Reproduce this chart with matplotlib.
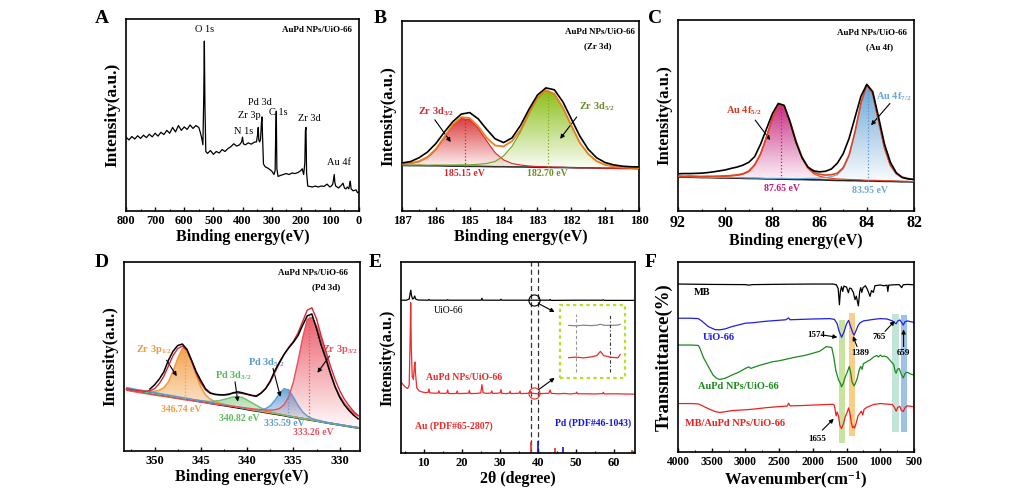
import numpy as np
import matplotlib
matplotlib.use('Agg')
import matplotlib.pyplot as plt
import matplotlib.colors as mcolors
from matplotlib.ticker import MultipleLocator

plt.rcParams['font.family'] = ['Liberation Serif', 'DejaVu Serif']
plt.rcParams['font.weight'] = 'bold'
plt.rcParams['axes.labelweight'] = 'bold'
plt.rcParams['mathtext.fontset'] = 'custom'
plt.rcParams['mathtext.rm'] = 'Liberation Serif'
plt.rcParams['mathtext.bf'] = 'Liberation Serif:bold'
plt.rcParams['mathtext.default'] = 'bf'

# ---------------- A: XPS survey ----------------
survey_be = [800, 790, 780, 770, 760, 750, 740, 730, 720, 710, 700, 690, 680, 670, 660, 650,
             640, 630, 620, 610, 600, 590, 580, 570, 560, 550, 545, 540, 536, 533, 531, 529,
             526, 520, 510, 500, 490, 480, 470, 460, 450, 440, 430, 420, 410, 403, 400, 397,
             390, 380, 370, 360, 352, 348, 346, 344, 341, 338, 335, 333, 331, 328, 322, 315,
             305, 298, 292, 288, 286, 284, 282, 278, 270, 260, 250, 240, 230, 220, 210, 200,
             195, 190, 186, 184, 182, 180, 176, 170, 160, 150, 140, 130, 120, 110, 100, 95,
             90, 88, 85, 83, 80, 75, 70, 60, 55, 50, 45, 40, 35, 32, 30, 27, 20, 10, 5, 0]
survey_int = [38.5, 37.0, 38.8, 37.5, 39.2, 37.8, 39.5, 38.2, 40.0, 38.6, 40.5, 39.0, 41.0, 39.8,
              42.0, 40.5, 43.5, 41.2, 44.5, 42.0, 43.8, 42.5, 44.8, 43.0, 44.5, 43.5, 41.0, 38.0,
              34.5, 60.0, 88.5, 55.0, 31.0, 30.0, 31.5, 29.5, 31.0, 30.2, 32.0, 31.0, 32.5, 33.5,
              35.0, 33.8, 34.5, 36.0, 38.5, 35.0, 34.5, 35.5, 34.8, 35.8, 36.0, 40.0, 43.5, 37.0,
              36.0, 37.5, 46.0, 49.0, 38.0, 24.5, 23.0, 22.5, 21.5, 20.5, 19.0, 21.0, 40.0, 52.0,
              22.0, 18.0, 18.5, 19.0, 19.5, 19.0, 19.8, 19.5, 20.0, 21.0, 22.0, 19.0, 25.0, 42.0,
              43.5, 20.0, 13.0, 12.8, 12.5, 13.0, 12.5, 13.0, 12.8, 14.0, 12.5, 13.0, 14.0, 16.0,
              19.0, 15.0, 13.0, 12.5, 12.0, 13.5, 14.5, 12.0, 11.5, 12.5, 11.5, 14.0, 15.5, 11.5,
              10.5, 11.0, 9.5, 10.0]
survey_tags = ['O 1s', 'Pd 3d', 'Zr 3p', 'N 1s', 'C 1s', 'Zr 3d', 'Au 4f']
survey_tag_be = [531, 339, 377, 397, 276, 171, 70]
survey_tag_y = [92, 54, 47.3, 39, 49, 46, 23]

# ---------------- B: Zr 3d ----------------
zr_be = [187.0, 186.75, 186.5, 186.25, 186.0, 185.75, 185.5, 185.25, 185.0, 184.75, 184.5,
         184.25, 184.0, 183.75, 183.5, 183.25, 183.0, 182.75, 182.5, 182.25, 182.0, 181.75,
         181.5, 181.25, 181.0, 180.75, 180.5, 180.25, 180.0]
zr_bg = [24.0, 23.9, 23.9, 23.8, 23.8, 23.7, 23.6, 23.6, 23.5, 23.5, 23.4, 23.3, 23.3, 23.2,
         23.2, 23.1, 23.0, 23.0, 22.9, 22.9, 22.8, 22.7, 22.7, 22.6, 22.5, 22.5, 22.4, 22.4, 22.3]
zr_3d32 = [24.8, 25.0, 25.9, 28.1, 32.2, 38.5, 44.8, 48.7, 48.1, 43.5, 36.9, 30.7, 26.9, 25.0,
           24.2, 23.7, 23.4, 23.3, 23.1, 23.0, 22.8, 22.7, 22.7, 22.6, 22.5, 22.5, 22.4, 22.4, 22.3]
zr_3d52 = [24.2, 24.1, 24.2, 24.1, 24.2, 24.2, 24.2, 24.3, 24.3, 24.6, 25.0, 26.1, 29.0, 34.1,
           41.6, 51.0, 59.2, 63.3, 61.5, 54.4, 45.0, 36.0, 30.0, 26.2, 24.3, 23.5, 23.0, 22.8, 22.6]
zr_fit = [25.0, 25.2, 26.2, 28.4, 32.6, 39.0, 45.4, 49.4, 48.9, 44.6, 38.5, 34.5, 34.0, 36.8,
          42.6, 51.6, 59.6, 63.6, 61.7, 54.5, 45.0, 36.0, 30.0, 26.2, 24.3, 23.5, 23.0, 22.8, 22.6]
zr_raw = [25.3, 26.0, 28.0, 31.0, 35.5, 41.5, 47.0, 51.0, 51.8, 48.5, 43.0, 38.0, 36.0, 38.5,
          45.0, 53.5, 61.0, 64.8, 63.8, 57.5, 48.5, 39.5, 32.5, 28.0, 25.5, 24.3, 23.6, 23.3, 23.2]
zr_centers = [185.15, 182.70]

# ---------------- C: Au 4f ----------------
au_be = [92.0, 91.75, 91.5, 91.25, 91.0, 90.75, 90.5, 90.25, 90.0, 89.75, 89.5, 89.25, 89.0,
         88.75, 88.5, 88.25, 88.0, 87.75, 87.5, 87.25, 87.0, 86.75, 86.5, 86.25, 86.0, 85.75,
         85.5, 85.25, 85.0, 84.75, 84.5, 84.25, 84.0, 83.75, 83.5, 83.25, 83.0, 82.75, 82.5,
         82.25, 82.0]
au_bg = [17.8, 17.7, 17.7, 17.6, 17.5, 17.5, 17.4, 17.3, 17.3, 17.2, 17.2, 17.1, 17.0, 17.0,
         16.9, 16.8, 16.8, 16.7, 16.7, 16.6, 16.5, 16.5, 16.4, 16.3, 16.3, 16.2, 16.1, 16.0,
         16.0, 15.9, 15.9, 15.8, 15.7, 15.7, 15.6, 15.5, 15.5, 15.4, 15.3, 15.3, 15.2]
au_4f52 = [18.1, 18.0, 18.1, 18.0, 17.9, 18.0, 18.0, 18.0, 18.1, 18.3, 18.6, 19.2, 20.6, 23.9,
           29.7, 38.5, 48.6, 55.5, 54.6, 46.5, 36.3, 27.9, 22.4, 19.5, 18.2, 17.5, 17.1, 16.8,
           16.7, 16.5, 16.4, 16.3, 16.1, 16.1, 16.0, 15.8, 15.8, 15.7, 15.6, 15.5, 15.4]
au_4f72 = [18.0, 17.9, 17.9, 17.8, 17.7, 17.7, 17.6, 17.6, 17.6, 17.5, 17.5, 17.4, 17.3, 17.3,
           17.2, 17.1, 17.1, 17.1, 17.1, 17.0, 16.9, 17.0, 17.1, 17.1, 17.3, 17.5, 18.0, 19.0,
           22.0, 28.8, 41.0, 56.0, 65.7, 61.0, 46.7, 32.7, 23.7, 19.3, 17.5, 16.8, 16.3]
au_fit = [18.3, 18.2, 18.3, 18.2, 18.1, 18.2, 18.2, 18.3, 18.4, 18.6, 18.9, 19.5, 20.9, 24.2,
          30.0, 38.8, 48.9, 55.9, 55.0, 46.9, 36.7, 28.4, 23.1, 20.3, 19.2, 18.8, 19.0, 19.8,
          22.7, 29.4, 41.5, 56.5, 66.1, 61.4, 47.1, 33.0, 24.0, 19.6, 17.8, 17.0, 16.5]
au_raw = [19.5, 19.6, 19.6, 19.7, 19.8, 20.1, 20.5, 21.0, 21.5, 22.3, 23.0, 24.0, 25.5, 28.5,
          35.0, 43.0, 51.0, 56.3, 55.3, 46.5, 36.0, 28.0, 23.0, 21.0, 20.5, 20.8, 22.0, 25.0,
          30.0, 38.0, 49.0, 60.0, 66.3, 62.5, 49.0, 35.0, 25.5, 20.0, 17.5, 16.8, 16.5]
au_centers = [87.65, 83.95]

# ---------------- D: Pd 3d ----------------
pd_be = [353.0, 352.5, 352.0, 351.5, 351.0, 350.5, 350.0, 349.5, 349.0, 348.5, 348.0, 347.5,
         347.0, 346.5, 346.0, 345.5, 345.0, 344.5, 344.0, 343.5, 343.0, 342.5, 342.0, 341.5,
         341.0, 340.5, 340.0, 339.5, 339.0, 338.5, 338.0, 337.5, 337.0, 336.5, 336.0, 335.5,
         335.0, 334.5, 334.0, 333.5, 333.0, 332.5, 332.0, 331.5, 331.0, 330.5, 330.0, 329.5,
         329.0, 328.5, 328.0]
pd_bg = [32.8, 32.3, 31.9, 31.5, 31.1, 30.7, 30.3, 29.9, 29.5, 29.0, 28.6, 28.2, 27.8, 27.4,
         27.0, 26.6, 26.2, 25.8, 25.3, 24.9, 24.5, 24.1, 23.7, 23.3, 22.9, 22.5, 22.0, 21.6,
         21.2, 20.8, 20.4, 20.0, 19.6, 19.2, 18.8, 18.3, 17.9, 17.5, 17.1, 16.7, 16.3, 15.9,
         15.5, 15.0, 14.6, 14.2, 13.8, 13.4, 13.0, 12.6, 12.2]
pd_zr3p12 = [33.1, 32.7, 32.3, 32.0, 31.8, 31.6, 31.6, 32.1, 33.4, 36.6, 42.2, 49.0, 54.2, 53.8,
             47.8, 40.2, 33.8, 29.7, 27.5, 26.2, 25.4, 24.8, 24.2, 23.7, 23.3, 22.8, 22.3, 21.8,
             21.4, 21.0, 20.6, 20.2, 19.8, 19.4, 19.0, 18.5, 18.1, 17.7, 17.2, 16.8, 16.4, 16.0,
             15.6, 15.1, 14.7, 14.3, 13.9, 13.5, 13.1, 12.7, 12.3]
pd_3d32 = [32.8, 32.3, 31.9, 31.5, 31.1, 30.7, 30.3, 29.9, 29.6, 29.1, 28.7, 28.3, 27.9, 27.6,
           27.2, 26.9, 26.6, 26.4, 26.2, 26.4, 26.7, 27.3, 27.9, 28.6, 28.7, 28.3, 27.0, 25.6,
           24.2, 22.8, 21.7, 20.8, 20.1, 19.5, 19.0, 18.5, 18.0, 17.6, 17.2, 16.8, 16.4, 15.9,
           15.5, 15.0, 14.6, 14.2, 13.8, 13.4, 13.0, 12.6, 12.2]
pd_3d52 = [33.6, 33.1, 32.6, 32.2, 31.8, 31.3, 30.9, 30.5, 30.0, 29.6, 29.2, 28.7, 28.3, 27.9,
           27.4, 27.0, 26.6, 26.2, 25.7, 25.3, 24.9, 24.5, 24.0, 23.6, 23.2, 22.8, 22.3, 22.0,
           21.8, 21.7, 22.4, 23.9, 26.8, 30.4, 33.0, 32.3, 28.6, 24.2, 20.7, 18.5, 17.2, 16.5,
           15.9, 15.3, 14.9, 14.4, 14.0, 13.6, 13.2, 12.8, 12.4]
pd_zr3p32 = [32.1, 31.6, 31.2, 30.8, 30.4, 30.0, 29.6, 29.2, 28.9, 28.5, 28.1, 27.7, 27.3, 26.9,
             26.6, 26.2, 25.9, 25.5, 25.1, 24.8, 24.5, 24.2, 23.9, 23.6, 23.3, 23.0, 22.7, 22.4,
             22.1, 21.9, 21.7, 21.6, 21.8, 22.5, 24.5, 28.7, 36.5, 47.6, 59.8, 69.6, 70.7, 66.3,
             59.3, 50.6, 42.0, 34.5, 29.3, 25.4, 22.5, 20.1, 18.5]
pd_env = [32.9, 32.5, 32.1, 31.8, 31.6, 31.9, 33.0, 35.6, 39.5, 45.0, 50.5, 54.2, 55.5, 53.2,
          47.5, 41.0, 36.0, 32.3, 30.5, 29.9, 29.6, 29.8, 30.2, 30.6, 30.7, 30.4, 29.9, 29.4,
          29.3, 30.6, 33.0, 36.5, 41.5, 46.5, 51.0, 54.8, 58.0, 62.5, 68.5, 74.5, 75.8, 70.0,
          61.0, 53.0, 45.0, 38.0, 32.0, 27.5, 24.0, 21.0, 18.8]
pd_raw_be = pd_be[5:]
pd_raw = [32.8, 35.0, 38.0, 41.8, 48.0, 52.8, 55.8, 56.6, 53.8, 48.0, 42.0, 37.3, 33.0, 30.8,
          30.0, 29.8, 29.6, 29.9, 30.8, 31.3, 30.8, 30.1, 29.4, 28.9, 30.6, 33.0, 37.0, 42.5,
          47.0, 51.2, 54.6, 57.5, 61.0, 66.5, 71.5, 72.5, 64.8, 56.0, 49.0, 41.0, 34.0, 28.5,
          24.5, 21.5, 19.0, 17.0]
pd_centers = [346.74, 340.82, 335.59, 333.26]

# ---------------- E: XRD ----------------
xrd_uio_x = [4.05, 5.5, 6.2, 6.45, 6.6, 6.8, 7.1, 7.4, 7.65, 7.9, 8.5, 11.2, 11.4, 11.6, 16.1,
             16.3, 16.5, 25.1, 25.3, 25.5, 30.1, 30.3, 30.5, 43.0, 43.2, 43.4, 50.0, 57.0, 57.2,
             57.4, 65.5]
xrd_uio_y = [80.0, 80.0, 80.6, 83.5, 85.2, 82.6, 80.6, 81.0, 82.2, 80.6, 80.1, 80.0, 80.4, 80.0,
             80.0, 80.3, 80.0, 80.0, 81.0, 80.0, 80.0, 80.5, 80.0, 80.0, 80.4, 79.9, 80.0, 80.0,
             80.2, 79.9, 79.9]
xrd_aupd_x = [4.05, 4.6, 5.2, 5.8, 6.2, 6.45, 6.6, 6.75, 7.0, 7.3, 7.55, 7.7, 7.85, 8.2, 8.8,
              9.5, 10.5, 11.2, 11.4, 11.6, 13.0, 13.8, 14.0, 14.2, 15.5, 16.1, 16.3, 16.5, 17.5,
              18.6, 18.8, 19.0, 20.5, 21.8, 22.0, 22.2, 24.0, 25.0, 25.3, 25.6, 26.5, 27.7, 27.9,
              28.1, 29.5, 30.1, 30.3, 30.5, 31.5, 32.5, 32.7, 32.9, 34.0, 35.1, 35.3, 35.5, 37.0,
              37.8, 38.0, 38.2, 40.0, 42.9, 43.2, 43.5, 45.5, 47.0, 48.5, 50.0, 50.2, 50.4, 53.0,
              55.0, 57.0, 57.2, 57.4, 60.0, 62.5, 65.5]
xrd_aupd_y = [37.2, 35.8, 34.5, 33.8, 35.5, 60.0, 78.7, 55.0, 40.0, 38.5, 45.0, 47.6, 42.0, 34.0,
              32.6, 32.0, 31.6, 31.8, 33.5, 31.5, 31.3, 31.4, 32.6, 31.3, 31.2, 31.4, 33.0, 31.2,
              31.1, 31.2, 32.5, 31.1, 31.2, 31.3, 32.8, 31.1, 31.2, 31.5, 35.8, 31.6, 31.2, 31.4,
              32.5, 31.2, 31.3, 31.5, 33.2, 31.2, 31.1, 31.3, 32.3, 31.1, 31.2, 31.3, 32.4, 31.1,
              31.2, 31.4, 32.5, 31.3, 31.0, 31.3, 33.0, 31.2, 31.0, 31.2, 30.9, 31.2, 31.9, 31.0,
              31.0, 30.9, 31.1, 31.8, 30.9, 31.0, 30.9, 30.8]
au_ref_pos = [38.1, 44.4, 64.6]
au_ref_h = [5.6, 2.6, 1.6]
pd_ref_pos = [40.1, 46.7]
pd_ref_h = [6.2, 3.3]
inset_x = [48.1, 50.0, 52.0, 54.0, 55.5, 56.4, 57.3, 59.0, 61.0, 61.6]
inset_uio = [66.8, 66.6, 66.9, 66.7, 66.9, 67.4, 66.9, 66.8, 67.0, 67.4]
inset_aupd = [49.9, 50.2, 49.8, 50.3, 51.0, 53.2, 51.0, 50.2, 49.8, 51.5]
inset_marks = [50.1, 59.0]

# ---------------- F: FTIR ----------------
mb_wn = [4000, 3500, 3000, 2950, 2900, 2400, 2000, 1700, 1650, 1625, 1606, 1592, 1575, 1557,
         1540, 1500, 1473, 1455, 1430, 1400, 1374, 1355, 1325, 1305, 1290, 1275, 1255, 1220,
         1190, 1152, 1130, 1103, 1080, 1000, 950, 900, 888, 875, 800, 720, 683, 660, 600, 500]
mb_t = [88.4, 88.2, 88.1, 87.8, 88.1, 88.3, 88.4, 88.4, 88.0, 86.0, 77.5, 84.5, 87.0, 84.5,
        87.3, 86.8, 83.8, 86.3, 86.0, 84.0, 80.2, 82.0, 76.9, 84.5, 86.5, 84.0, 86.5, 87.5,
        85.5, 81.9, 85.0, 84.0, 87.5, 87.9, 87.5, 87.8, 84.5, 87.8, 88.0, 88.1, 86.5, 88.0,
        88.2, 88.0]
uio_wn = [4000, 3800, 3700, 3650, 3550, 3450, 3380, 3300, 3200, 3000, 2900, 2700, 2400, 2360,
          2340, 2000, 1750, 1680, 1640, 1610, 1574, 1540, 1500, 1470, 1440, 1410, 1389, 1370,
          1330, 1300, 1250, 1100, 1000, 900, 820, 790, 765, 740, 710, 680, 659, 635, 600, 500]
uio_t = [70.4, 70.4, 70.2, 69.0, 66.0, 64.4, 64.3, 64.8, 66.0, 67.8, 68.0, 68.8, 69.6, 70.6,
         69.6, 70.0, 70.2, 69.8, 67.5, 63.5, 60.4, 63.0, 67.5, 69.3, 66.0, 63.0, 61.5, 63.0,
         66.5, 68.0, 69.0, 69.8, 70.2, 70.0, 69.0, 68.0, 67.5, 69.0, 69.5, 68.0, 66.8, 68.5,
         69.0, 68.2]
aupd_wn = [4000, 3800, 3700, 3680, 3620, 3550, 3480, 3420, 3380, 3300, 3200, 3100, 3000, 2950,
           2920, 2800, 2600, 2500, 2300, 2100, 2000, 1900, 1800, 1720, 1690, 1660, 1620, 1590,
           1574, 1550, 1520, 1490, 1460, 1440, 1420, 1400, 1389, 1370, 1340, 1310, 1290, 1270,
           1250, 1200, 1150, 1100, 1050, 1030, 1000, 970, 940, 900, 850, 800, 780, 765, 745,
           720, 690, 659, 630, 600, 550, 500]
aupd_t = [56.3, 56.3, 56.1, 55.0, 49.5, 45.0, 40.5, 38.6, 38.2, 38.8, 40.5, 42.0, 44.0, 44.8,
          44.0, 45.5, 47.5, 48.0, 49.6, 51.0, 52.0, 53.0, 55.5, 55.0, 50.0, 43.0, 38.0, 36.0,
          34.3, 36.0, 39.5, 42.0, 45.0, 42.0, 37.0, 35.5, 34.8, 36.0, 39.0, 43.5, 45.0, 43.5,
          46.5, 47.5, 48.5, 50.0, 50.8, 50.0, 51.0, 50.2, 50.5, 50.0, 48.0, 46.0, 42.5, 41.5,
          43.5, 44.0, 41.0, 39.0, 41.5, 42.0, 41.0, 40.5]
mbaupd_wn = [4000, 3800, 3700, 3650, 3550, 3450, 3380, 3300, 3200, 3000, 2900, 2700, 2500,
             2380, 2360, 2340, 2200, 2000, 1800, 1700, 1680, 1655, 1640, 1620, 1600, 1574, 1550,
             1520, 1490, 1470, 1450, 1430, 1410, 1395, 1380, 1360, 1330, 1300, 1280, 1260, 1240,
             1200, 1100, 1000, 900, 820, 790, 765, 740, 710, 690, 659, 630, 600, 500]
mbaupd_t = [25.5, 25.5, 25.3, 24.5, 22.8, 21.3, 20.8, 21.2, 21.8, 22.2, 22.5, 23.3, 23.9, 24.2,
            25.7, 24.3, 24.4, 24.7, 25.0, 25.1, 24.5, 19.0, 21.0, 19.0, 14.0, 12.3, 14.5, 18.5,
            21.0, 23.2, 20.5, 15.5, 12.8, 13.5, 12.6, 15.0, 19.0, 20.5, 21.5, 19.5, 22.5, 23.5,
            25.0, 25.5, 25.2, 25.0, 23.5, 21.5, 23.5, 24.0, 22.0, 21.3, 23.5, 24.3, 23.8]
band_lo = [1522, 1374, 723, 609]
band_hi = [1611, 1458, 822, 698]
band_bottom = [4.8, 8.5, 10.6, 10.6]
band_top = [69.5, 73.0, 72.7, 72.0]
band_colors = ['#9acd4e', '#f5a623', '#8fd1b8', '#4f8fd0']


def px_rect(l, t, r, b):
    return [l / 1015, 1 - b / 501, (r - l) / 1015, (b - t) / 501]


def gradient_fill(ax, x, top, base, color, a_top=0.9, a_bot=0.03):
    poly = ax.fill_between(x, base, top, facecolor='none', edgecolor='none')
    grad = np.zeros((100, 1, 4))
    grad[:, :, :3] = mcolors.to_rgb(color)
    grad[:, 0, 3] = np.linspace(a_bot, a_top, 100)
    im = ax.imshow(grad, aspect='auto', origin='lower', zorder=1,
                   extent=[min(x), max(x), min(base), max(top)])
    im.set_clip_path(poly.get_paths()[0], transform=ax.transData)


def style_axis(ax, xlim, major, minor, tsize, xlabel, ylabel, ysize=12, xsize=11.5):
    ax.set_xlim(*xlim)
    ax.set_ylim(0, 100)
    ax.xaxis.set_major_locator(MultipleLocator(major))
    ax.xaxis.set_minor_locator(MultipleLocator(minor))
    ax.set_yticks([])
    ax.tick_params(axis='x', which='major', direction='in', length=3, width=1,
                   labelsize=tsize, pad=3)
    ax.tick_params(axis='x', which='minor', direction='in', length=1.8, width=0.8)
    for s in ax.spines.values():
        s.set_linewidth(1.2)
    ax.set_xlabel(xlabel, fontsize=xsize, labelpad=1)
    ax.set_ylabel(ylabel, fontsize=ysize, labelpad=4)


def arrow(ax, start, end, color='k'):
    ax.annotate('', xy=end, xytext=start,
                arrowprops=dict(arrowstyle='-|>', color=color, lw=0.8, mutation_scale=6,
                                shrinkA=0, shrinkB=0))


def plot_survey(ax):
    ax.plot(survey_be, survey_int, color='k', lw=0.9)
    for t, x, y in zip(survey_tags, survey_tag_be, survey_tag_y):
        ax.text(x, y, t, fontsize=7.5, fontweight='normal', ha='center', va='bottom')
    ax.text(0.82, 0.965, 'AuPd NPs/UiO-66', transform=ax.transAxes, fontsize=6.5,
            ha='center', va='top')
    style_axis(ax, (800, 0), 100, 50, 8.8, 'Binding energy(eV)', 'Intensity(a.u.)',
               ysize=12.5)


def plot_zr3d(ax):
    red, green, orange = '#d7262b', '#6da51f', '#f07d1b'
    ax.plot(zr_be, zr_bg, color='#333333', lw=1.2, zorder=2)
    gradient_fill(ax, zr_be, zr_3d32, zr_bg, red)
    gradient_fill(ax, zr_be, zr_3d52, zr_bg, '#7fb800')
    ax.plot(zr_be, zr_3d32, color=red, lw=0.8, zorder=3)
    ax.plot(zr_be, zr_3d52, color=green, lw=0.8, zorder=3)
    ax.plot(zr_be, zr_fit, color=orange, lw=1.3, zorder=4)
    ax.plot(zr_be, zr_raw, color='k', lw=1.2, zorder=5)
    for c, col, top in zip(zr_centers, [red, '#8aa61e'], [48.9, 63.5]):
        ax.plot([c, c], [23.3, top], ls=':', color=col, lw=0.9, zorder=3)
    ax.text(185.15, 19.5, '185.15 eV', color=red, fontsize=7, ha='center', va='center')
    ax.text(182.70, 19.5, '182.70 eV', color='#6b8e23', fontsize=7, ha='center', va='center')
    ax.text(186.0, 52, 'Zr 3d$_{3/2}$', color=red, fontsize=7.5, ha='center', va='center')
    ax.text(181.25, 54.7, 'Zr 3d$_{5/2}$', color='#6b8e23', fontsize=7.5, ha='center',
            va='center')
    arrow(ax, (186.03, 48), (185.56, 36.3))
    arrow(ax, (181.84, 49.5), (182.33, 38))
    ax.text(0.835, 0.94, 'AuPd NPs/UiO-66', transform=ax.transAxes, fontsize=6.5,
            ha='center', va='center')
    ax.text(0.827, 0.865, '(Zr 3d)', transform=ax.transAxes, fontsize=6.5,
            ha='center', va='center')
    style_axis(ax, (187, 180), 1, 0.5, 9, 'Binding energy(eV)', 'Intensity(a.u.)')


def plot_au4f(ax):
    mag, blue, fitc = '#c41877', '#6aa6d6', '#e0451f'
    ax.plot(au_be, au_bg, color='#222222', lw=1.2, zorder=2)
    gradient_fill(ax, au_be, au_4f52, au_bg, mag)
    gradient_fill(ax, au_be, au_4f72, au_bg, '#5b9bd0')
    ax.plot(au_be, au_4f52, color=fitc, lw=0.8, zorder=3)
    ax.plot(au_be, au_4f72, color=blue, lw=0.8, zorder=3)
    ax.plot(au_be, au_fit, color=fitc, lw=1.2, zorder=4)
    ax.plot(au_be, au_raw, color='k', lw=1.2, zorder=5)
    ax.plot([au_centers[0]] * 2, [16.7, 56.0], ls=':', color=mag, lw=0.9, zorder=3)
    ax.plot([au_centers[1]] * 2, [15.7, 65.9], ls=':', color='#4f94d4', lw=0.9, zorder=3)
    ax.text(87.6, 11.7, '87.65 eV', color=mag, fontsize=7, ha='center', va='center')
    ax.text(83.86, 10.8, '83.95 eV', color='#6aa6d6', fontsize=7, ha='center', va='center')
    ax.text(89.22, 52.3, 'Au 4f$_{5/2}$', color='#d23a1e', fontsize=7.5, ha='center',
            va='center')
    ax.text(82.87, 59.8, 'Au 4f$_{7/2}$', color='#6aa6d6', fontsize=7.5, ha='center',
            va='center')
    arrow(ax, (88.73, 47.6), (88.09, 37.1))
    arrow(ax, (83.02, 56.3), (83.82, 44.9))
    ax.text(0.82, 0.934, 'AuPd NPs/UiO-66', transform=ax.transAxes, fontsize=6.5,
            ha='center', va='center')
    ax.text(0.856, 0.857, '(Au 4f)', transform=ax.transAxes, fontsize=6.5,
            ha='center', va='center')
    style_axis(ax, (92, 82), 2, 1, 11.5, 'Binding energy(eV)', 'Intensity(a.u.)')


def plot_pd3d(ax):
    orange, green, blue, red = '#f39a3c', '#6cc070', '#5b9bd5', '#e9505e'
    ax.plot(pd_be, pd_bg, color='k', lw=1.4, zorder=2)
    gradient_fill(ax, pd_be, pd_zr3p12, pd_bg, orange)
    gradient_fill(ax, pd_be, pd_3d32, pd_bg, '#8fd18a')
    gradient_fill(ax, pd_be, pd_3d52, pd_bg, blue)
    gradient_fill(ax, pd_be, pd_zr3p32, pd_bg, red)
    ax.plot(pd_be, pd_zr3p12, color=orange, lw=1.1, zorder=3)
    ax.plot(pd_be, pd_3d32, color=green, lw=1.0, zorder=3)
    ax.plot(pd_be, pd_3d52, color=blue, lw=1.0, zorder=3)
    ax.plot(pd_be, pd_zr3p32, color=red, lw=1.0, zorder=3)
    ax.plot(pd_be, pd_env, color='#d22b36', lw=1.0, zorder=4)
    ax.plot(pd_raw_be, pd_raw, color='k', lw=1.1, zorder=5)
    for c, col, lo, hi in zip([346.74, 335.59, 333.26], [orange, blue, red],
                              [27.6, 18.5, 16.6], [54.8, 32.8, 71.2]):
        ax.plot([c, c], [lo, hi], ls=':', color=col, lw=0.9, zorder=3)
    ax.text(347.1, 21.7, '346.74 eV', color=orange, fontsize=7, ha='center', va='center')
    ax.text(340.8, 17.3, '340.82 eV', color='#5cb85c', fontsize=7, ha='center', va='center')
    ax.text(336.0, 14.3, '335.59 eV', color=blue, fontsize=7, ha='center', va='center')
    ax.text(332.9, 9.9, '333.26 eV', color=red, fontsize=7, ha='center', va='center')
    ax.text(350.0, 53.7, 'Zr 3p$_{1/2}$', color=orange, fontsize=7.5, ha='center',
            va='center')
    ax.text(341.5, 39.6, 'Pd 3d$_{3/2}$', color='#5cb85c', fontsize=7.5, ha='center',
            va='center')
    ax.text(337.9, 46.7, 'Pd 3d$_{5/2}$', color=blue, fontsize=7.5, ha='center', va='center')
    ax.text(330.0, 53.7, 'Zr 3p$_{3/2}$', color=red, fontsize=7.5, ha='center', va='center')
    arrow(ax, (348.7, 48), (347.6, 39.6))
    arrow(ax, (341.3, 36.6), (341.0, 26.1))
    arrow(ax, (337.2, 43.7), (336.4, 28.7))
    arrow(ax, (331.1, 50.2), (332.4, 41.4))
    ax.text(0.80, 0.94, 'AuPd NPs/UiO-66', transform=ax.transAxes, fontsize=6.5,
            ha='center', va='center')
    ax.text(0.857, 0.865, '(Pd 3d)', transform=ax.transAxes, fontsize=6.5,
            ha='center', va='center')
    style_axis(ax, (353.3, 327.8), 5, 2.5, 9, 'Binding energy(eV)', 'Intensity(a.u.)')


def plot_xrd(ax):
    ax.plot(xrd_uio_x, xrd_uio_y, color='k', lw=0.9)
    ax.plot(xrd_aupd_x, xrd_aupd_y, color='#ee2a2a', lw=0.9)
    ax.vlines(au_ref_pos, 0, au_ref_h, color='#ee2a2a', lw=1.2)
    ax.vlines(pd_ref_pos, 0, pd_ref_h, color='#1515e0', lw=1.2)
    for x in [38.1, 40.1]:
        ax.plot([x, x], [0, 100], ls=(0, (4, 2.5)), color='#333333', lw=0.9, zorder=1)
    ax.plot([39.1], [80], marker='o', ms=8, mfc='none', mec='k', mew=0.8)
    ax.plot([39.1], [31.2], marker='o', ms=8, mfc='none', mec='#ee2a2a', mew=0.8)
    arrow(ax, (40.2, 78.2), (44.4, 73.8))
    arrow(ax, (40.2, 33.2), (44.4, 39.3))
    ax.add_patch(plt.Rectangle((45.9, 39.3), 17.0, 38.4, fill=False, ec='#b5e02a',
                               ls=(0, (1.5, 1.5)), lw=1.6))
    ax.plot(inset_x, inset_uio, color='#888888', lw=0.9)
    ax.plot(inset_x, inset_aupd, color='#ee2a2a', lw=0.9)
    ax.plot([inset_marks[0]] * 2, [42.4, 73], ls=(0, (3, 2)), color='#999999', lw=0.8)
    ax.plot([inset_marks[1]] * 2, [42.4, 73], ls=(0, (3, 2, 1, 2)), color='#333333', lw=0.8)
    ax.text(16.6, 74.7, 'UiO-66', fontsize=7, fontweight='normal', ha='center', va='center')
    ax.text(20.5, 39.4, 'AuPd NPs/UiO-66', color='#ee2a2a', fontsize=7, ha='center',
            va='center')
    ax.text(17.9, 14, 'Au (PDF#65-2807)', color='#ee2a2a', fontsize=7, ha='center',
            va='center')
    ax.text(54.5, 15.7, 'Pd (PDF#46-1043)', color='#1515e0', fontsize=7, ha='center',
            va='center')
    style_axis(ax, (4.05, 65.5), 10, 5, 9, '2θ (degree)', 'Intensity(a.u.)', ysize=11.5)


def plot_ftir(ax):
    for lo, hi, b, t, c in zip(band_lo, band_hi, band_bottom, band_top, band_colors):
        ax.add_patch(plt.Rectangle((lo, b), hi - lo, t - b, color=c, alpha=0.55, lw=0,
                                   zorder=1))
    ax.plot(mb_wn, mb_t, color='k', lw=0.9, zorder=2)
    ax.plot(uio_wn, uio_t, color='#1f1fe6', lw=0.9, zorder=2)
    ax.plot(aupd_wn, aupd_t, color='#1a8a1a', lw=0.9, zorder=2)
    ax.plot(mbaupd_wn, mbaupd_t, color='#ee2020', lw=0.9, zorder=2)
    ax.text(3640, 84, 'MB', fontsize=7.5, ha='center', va='center')
    ax.text(3390, 60, 'UiO-66', color='#1f1fe6', fontsize=7.5, ha='center', va='center')
    ax.text(3100, 34.3, 'AuPd NPs/UiO-66', color='#1a8a1a', fontsize=7.5, ha='center',
            va='center')
    ax.text(3150, 15, 'MB/AuPd NPs/UiO-66', color='#ee2020', fontsize=7.5, ha='center',
            va='center')
    ax.text(1950, 61.6, '1574', fontsize=6.5, ha='center', va='center')
    ax.text(1300, 52.3, '1389', fontsize=6.5, ha='center', va='center')
    ax.text(1015, 60.7, '765', fontsize=6.5, ha='center', va='center')
    ax.text(660, 52, '659', fontsize=6.5, ha='center', va='center')
    ax.text(1940, 7, '1655', fontsize=6.5, ha='center', va='center')
    arrow(ax, (1860, 61.6), (1636, 60.4))
    arrow(ax, (1345, 55.5), (1405, 61.0))
    arrow(ax, (930, 63.5), (785, 69.0))
    arrow(ax, (655, 55.5), (655, 64.5))
    arrow(ax, (1860, 11.5), (1690, 17.5))
    style_axis(ax, (4000, 500), 500, 250, 8.3, 'Wavenumber(cm$^{-1}$)', 'Transmittance(%)',
               ysize=13.5, xsize=12)


def main():
    fig = plt.figure(figsize=(10.15, 5.01), dpi=100)
    rects = [(126, 19, 359, 211), (402, 21, 639, 211), (678, 20, 914, 211),
             (124, 262, 360, 451), (401, 262, 635, 453), (678, 262, 914, 452)]
    funcs = [plot_survey, plot_zr3d, plot_au4f, plot_pd3d, plot_xrd, plot_ftir]
    letters = ['A', 'B', 'C', 'D', 'E', 'F']
    letter_pos = [(95, 10), (374, 10), (648, 10), (95, 254), (369, 254), (645, 254)]
    for rect, fn in zip(rects, funcs):
        ax = fig.add_axes(px_rect(*rect))
        fn(ax)
    for lt, (x, y) in zip(letters, letter_pos):
        fig.text(x / 1015, 1 - y / 501, lt, fontsize=14, fontweight='bold',
                 ha='left', va='top')
    fig.savefig('out.png', dpi=100)


if __name__ == '__main__':
    main()
